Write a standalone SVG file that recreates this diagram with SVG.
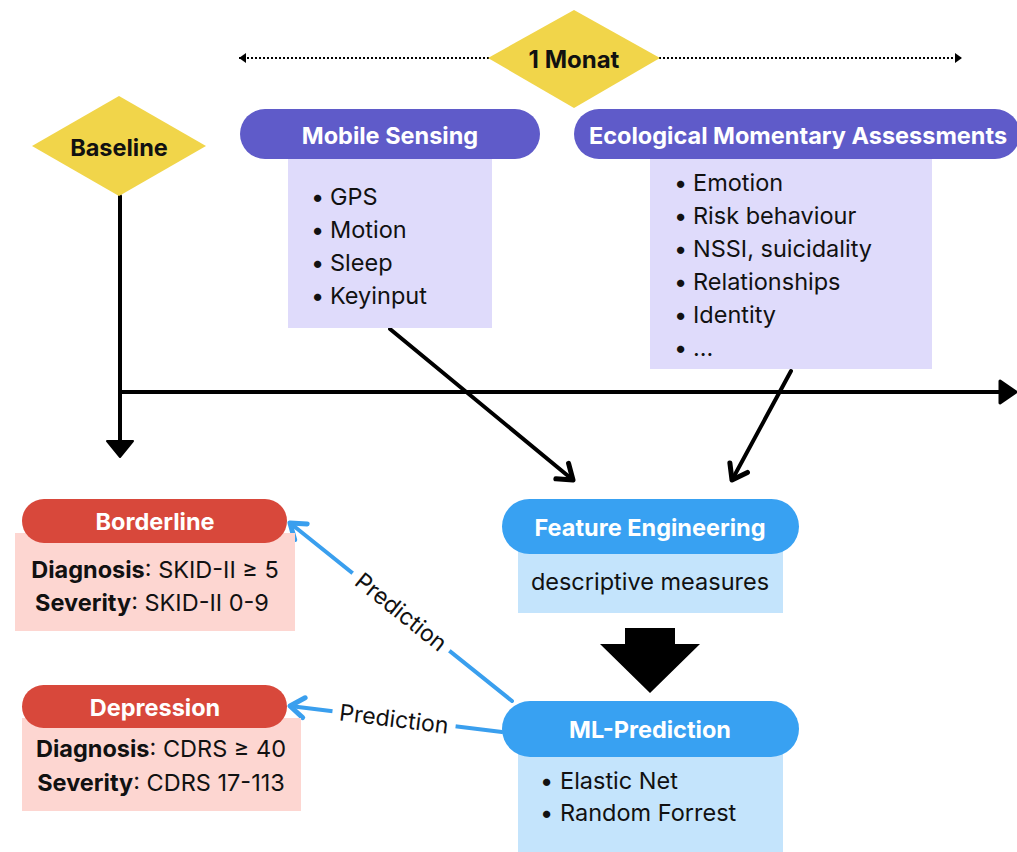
<svg xmlns="http://www.w3.org/2000/svg" width="1017" height="852" viewBox="0 0 1017 852">
  <style>
    text { font-family: Inter, "Noto Sans", "Liberation Sans", sans-serif; }
    .hdr { font-size: 23.5px; font-weight: 700; fill: #ffffff; text-anchor: middle; dominant-baseline: central; }
    .item { font-size: 23.5px; fill: #111111; dominant-baseline: central; }
    .ctr { font-size: 23.5px; fill: #111111; text-anchor: middle; dominant-baseline: central; }
    .b { font-weight: 700; }
    .lbl { font-size: 23px; fill: #111111; text-anchor: middle; dominant-baseline: central; }
    .diam { fill: #F1D54A; }
    .dtxt { font-size: 23.5px; font-weight: 700; fill: #111111; text-anchor: middle; dominant-baseline: central; }
    .blk { stroke: #000000; stroke-width: 4; fill: none; stroke-linecap: round; }
    .blue { stroke: #3A9FEE; stroke-width: 4; fill: none; stroke-linecap: round; }
  </style>
  <defs>
    <marker id="chev" markerUnits="userSpaceOnUse" markerWidth="30" markerHeight="30" refX="0" refY="0" orient="auto" overflow="visible">
      <path d="M-14,-10 L0,0 L-14,10" fill="none" stroke="#000" stroke-width="5" stroke-linecap="round" stroke-linejoin="round"/>
    </marker>
    <marker id="chevBlue" markerUnits="userSpaceOnUse" markerWidth="30" markerHeight="30" refX="0" refY="0" orient="auto" overflow="visible">
      <path d="M-14,-10 L0,0 L-14,10" fill="none" stroke="#3A9FEE" stroke-width="5" stroke-linecap="round" stroke-linejoin="round"/>
    </marker>
    <marker id="triSmall" markerUnits="userSpaceOnUse" markerWidth="12" markerHeight="12" refX="0" refY="0" orient="auto-start-reverse" overflow="visible">
      <path d="M-7,-5 L0,0 L-7,5 Z" fill="#000"/>
    </marker>
  </defs>

  <rect width="1017" height="852" fill="#ffffff"/>

  <!-- connectors -->
  <g id="connectors">
    <!-- study period span -->
    <line x1="239" y1="58" x2="962" y2="58" stroke="#000" stroke-width="2" stroke-dasharray="2 2" marker-start="url(#triSmall)" marker-end="url(#triSmall)"/>
    <!-- timeline -->
    <line class="blk" x1="120" y1="196" x2="120" y2="442"/>
    <path d="M107,441 L133,441 L120,457 Z" fill="#000" stroke="#000" stroke-width="2" stroke-linejoin="round"/>
    <line class="blk" x1="120" y1="392" x2="1000" y2="392"/>
    <path d="M1000,381 L1016,392 L1000,403 Z" fill="#000" stroke="#000" stroke-width="3" stroke-linejoin="round"/>
    <!-- data sources to feature engineering -->
    <line class="blk" x1="390" y1="329" x2="573" y2="480" marker-end="url(#chev)"/>
    <line class="blk" x1="791" y1="371" x2="732" y2="480" marker-end="url(#chev)"/>
    <!-- feature engineering to ML -->
    <path d="M625,628 L675,628 L675,644 L700,644 L650,693 L600,644 L625,644 Z" fill="#000"/>
    <!-- predictions -->
    <line class="blue" x1="512" y1="701" x2="290" y2="523" marker-end="url(#chevBlue)"/>
    <line class="blue" x1="502" y1="732" x2="290" y2="706" marker-end="url(#chevBlue)"/>
    <g transform="translate(401,612) rotate(38.7)">
      <rect x="-62" y="-14" width="124" height="28" fill="#ffffff"/>
      <text class="lbl" x="0" y="0">Prediction</text>
    </g>
    <g transform="translate(394,719) rotate(7)">
      <rect x="-62" y="-14" width="124" height="28" fill="#ffffff"/>
      <text class="lbl" x="0" y="0">Prediction</text>
    </g>
  </g>

  <!-- milestones -->
  <g id="monat">
    <polygon class="diam" points="574,10 660,58 574,108 488,58"/>
    <text class="dtxt" x="574" y="59" style="font-size:24px">1 Monat</text>
  </g>
  <g id="baseline">
    <polygon class="diam" points="119,96 206,146 119,196 32,146"/>
    <text class="dtxt" x="119" y="147">Baseline</text>
  </g>

  <!-- data sources -->
  <g id="mobile-sensing">
    <rect x="288" y="150" width="204" height="178" fill="#DFDBFB"/>
    <rect x="240" y="109" width="300" height="50" rx="25" fill="#5F5BC9"/>
    <text class="hdr" x="390" y="135">Mobile Sensing</text>
    <text class="item" x="311" y="196">• <tspan x="330">GPS</tspan></text>
    <text class="item" x="311" y="229">• <tspan x="330">Motion</tspan></text>
    <text class="item" x="311" y="262">• <tspan x="330">Sleep</tspan></text>
    <text class="item" x="311" y="295">• <tspan x="330">Keyinput</tspan></text>
  </g>

  <g id="ema">
    <rect x="650" y="150" width="282" height="219" fill="#DFDBFB"/>
    <rect x="574" y="109" width="446" height="50" rx="25" fill="#5F5BC9"/>
    <text class="hdr" x="798" y="135">Ecological Momentary Assessments</text>
    <text class="item" x="674" y="182">• <tspan x="693">Emotion</tspan></text>
    <text class="item" x="674" y="215">• <tspan x="693">Risk behaviour</tspan></text>
    <text class="item" x="674" y="248">• <tspan x="693">NSSI, suicidality</tspan></text>
    <text class="item" x="674" y="281">• <tspan x="693">Relationships</tspan></text>
    <text class="item" x="674" y="314">• <tspan x="693">Identity</tspan></text>
    <text class="item" x="674" y="347">• <tspan x="693">...</tspan></text>
  </g>

  <!-- processing -->
  <g id="feature-engineering">
    <rect x="518" y="540" width="265" height="73" fill="#C4E4FC"/>
    <rect x="502" y="499" width="297" height="55" rx="27.5" fill="#38A1F2"/>
    <text class="hdr" x="650" y="527">Feature Engineering</text>
    <text class="ctr" x="650" y="581">descriptive measures</text>
  </g>

  <g id="ml-prediction">
    <rect x="518" y="740" width="265" height="112" fill="#C4E4FC"/>
    <rect x="502" y="701" width="297" height="56" rx="28" fill="#38A1F2"/>
    <text class="hdr" x="650" y="729">ML-Prediction</text>
    <text class="item" x="540" y="780">• <tspan x="560">Elastic Net</tspan></text>
    <text class="item" x="540" y="812">• <tspan x="560">Random Forrest</tspan></text>
  </g>

  <!-- outcomes -->
  <g id="borderline">
    <rect x="15" y="533" width="280" height="98" fill="#FDD6D1"/>
    <rect x="22" y="499" width="265" height="44" rx="22" fill="#D8483B"/>
    <text class="hdr" x="155" y="521">Borderline</text>
    <text class="ctr" x="155" y="569"><tspan class="b">Diagnosis</tspan>: SKID-II ≥ 5</text>
    <text class="ctr" x="152" y="602"><tspan class="b">Severity</tspan>: SKID-II 0-9</text>
  </g>

  <g id="depression">
    <rect x="22" y="718" width="279" height="93" fill="#FDD6D1"/>
    <rect x="22" y="685" width="265" height="43" rx="21.5" fill="#D8483B"/>
    <text class="hdr" x="155" y="707">Depression</text>
    <text class="ctr" x="161" y="748"><tspan class="b">Diagnosis</tspan>: CDRS ≥ 40</text>
    <text class="ctr" x="161" y="782"><tspan class="b">Severity</tspan>: CDRS 17-113</text>
  </g>
</svg>
